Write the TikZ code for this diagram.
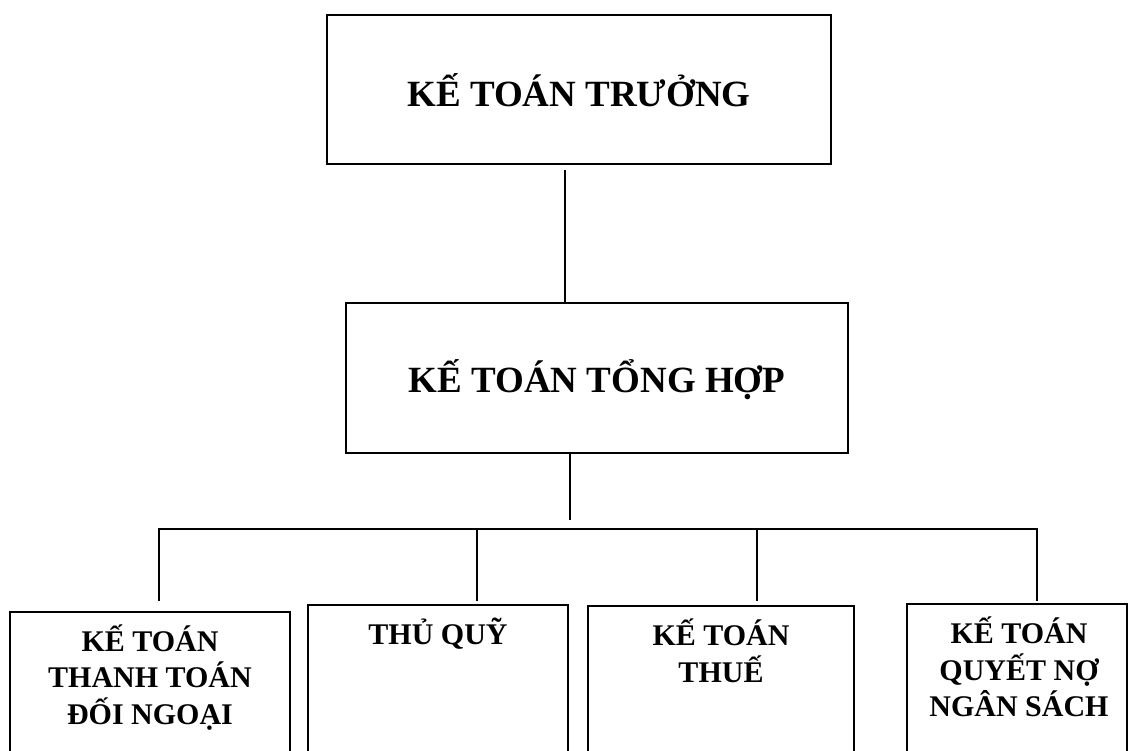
\documentclass[tikz,border=0pt]{standalone}
\usepackage{fontspec}
\setmainfont{Liberation Serif}
\usetikzlibrary{calc}
\begin{document}
\begin{tikzpicture}[x=1pt,y=-1pt,
  wire/.style={draw=black, line width=1.5pt},
  unitbox/.style={draw=black, line width=1.8pt, fill=white, inner sep=0pt},
  headtext/.style={font=\bfseries\fontsize{37}{42}\selectfont, inner sep=0pt, anchor=base},
  subtext/.style={font=\bfseries\fontsize{30}{34.5}\selectfont, inner sep=0pt, anchor=base}
]
\useasboundingbox (0,0) rectangle (1138,751);
\clip (0,0) rectangle (1138,751);
\fill[white] (0,0) rectangle (1138,751);

% chief accountant and general accountant
\node[unitbox, minimum width=504pt, minimum height=149pt] (tkt) at (579,89.5) {};
\node[headtext] (tktlabel) at ($(tkt.center)+(0,17)$) {KẾ TOÁN TRƯỞNG};
\node[unitbox, minimum width=502pt, minimum height=150pt] (tth) at (597,378) {};
\node[headtext] (tthlabel) at ($(tth.center)+(0,14)$) {KẾ TOÁN TỔNG HỢP};

% four departments (boxes run past the lower edge)
\node[unitbox, minimum width=280pt, minimum height=158pt] (b1) at (150,691) {};
\node[unitbox, minimum width=260pt, minimum height=165pt] (b2) at (438,687.5) {};
\node[unitbox, minimum width=266pt, minimum height=164pt] (b3) at (721,688) {};
\node[unitbox, minimum width=220pt, minimum height=166pt] (b4) at (1017,687) {};

\node[subtext] (b1label) at ($(b1.north)+(0,40)$)
  {\begin{tabular}[t]{@{}c@{}}KẾ TOÁN\\THANH TOÁN\\ĐỐI NGOẠI\end{tabular}};
\node[subtext] (b2label) at ($(b2.north)+(0,40)$)
  {\begin{tabular}[t]{@{}c@{}}THỦ QUỸ\end{tabular}};
\node[subtext] (b3label) at ($(b3.north)+(0,40)$)
  {\begin{tabular}[t]{@{}c@{}}KẾ TOÁN\\THUẾ\end{tabular}};
\node[subtext] (b4label) at ($(b4.north)+(2,40)$)
  {\begin{tabular}[t]{@{}c@{}}KẾ TOÁN\\QUYẾT NỢ\\NGÂN SÁCH\end{tabular}};

% vertical links between the upper boxes
\coordinate (up1) at ($(tkt.south)+(-14,5)$);
\draw[wire] (up1) -- (up1 |- tth.north);
\coordinate (up2) at ($(tth.south)+(-27,66)$);
\draw[wire] (up2 |- tth.south) -- (up2);

% distribution bus and drops to the departments
\coordinate (busL) at (159,529);
\coordinate (busR) at (1037,529);
\coordinate (drop1) at (159,601);
\coordinate (drop2) at (477,601);
\coordinate (drop3) at (757,601);
\coordinate (drop4) at (1037,601);
\draw[wire] (drop1) -- (busL) -- (busR) -- (drop4);
\draw[wire] (drop2 |- busL) -- (drop2);
\draw[wire] (drop3 |- busL) -- (drop3);
\end{tikzpicture}
\end{document}
